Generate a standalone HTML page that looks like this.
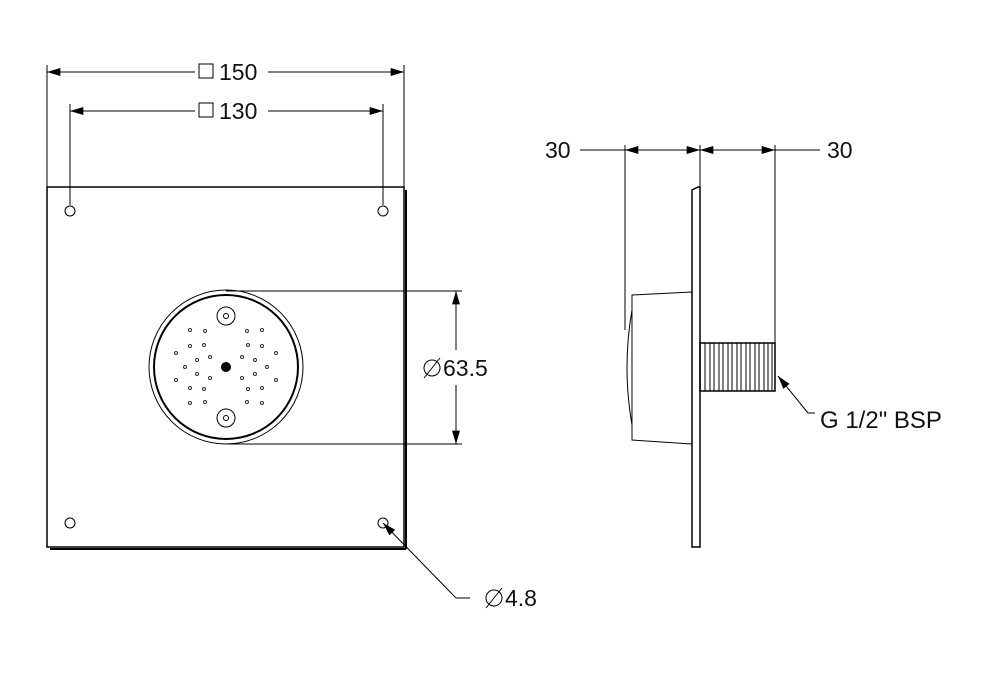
<!DOCTYPE html>
<html><head><style>body{margin:0;background:#fff}svg{display:block}text{font-family:"Liberation Sans",sans-serif;font-size:23px;fill:#111}</style></head><body>
<svg width="999" height="679" viewBox="0 0 999 679">
<defs><marker id="a" viewBox="0 0 10 6" refX="10" refY="3" markerWidth="24" markerHeight="8" markerUnits="userSpaceOnUse" orient="auto-start-reverse"><path d="M0,0L10,3L0,6z" fill="#000"/></marker></defs>
<g stroke="#000" fill="none" stroke-width="1">
<line x1="47" y1="65" x2="47" y2="187"/><line x1="404" y1="65" x2="404" y2="187"/>
<line x1="70" y1="104" x2="70" y2="205"/><line x1="383" y1="104" x2="383" y2="205"/>
<line x1="47" y1="72" x2="195" y2="72" marker-start="url(#a)"/><line x1="268" y1="72" x2="404" y2="72" marker-end="url(#a)"/>
<line x1="70" y1="111" x2="195" y2="111" marker-start="url(#a)"/><line x1="268" y1="111" x2="383" y2="111" marker-end="url(#a)"/>
<rect x="47" y="187" width="357" height="360" stroke-width="1.5"/>
<line x1="50" y1="549" x2="406" y2="549" stroke-width="2"/><line x1="406" y1="190" x2="406" y2="549" stroke-width="2"/>
<circle cx="70" cy="211" r="5"/><circle cx="383" cy="211" r="5"/><circle cx="70" cy="523" r="5"/><circle cx="383" cy="523" r="5"/>
<circle cx="226" cy="367" r="77"/><circle cx="226" cy="367" r="72" stroke-width="2"/>
<circle cx="226" cy="316" r="9"/><circle cx="226" cy="316" r="2.5"/><circle cx="226" cy="418" r="9"/><circle cx="226" cy="418" r="2.5"/>
<line x1="226" y1="291" x2="462" y2="291"/><line x1="226" y1="444" x2="462" y2="444"/>
<line x1="456" y1="291" x2="456" y2="350" marker-start="url(#a)"/><line x1="456" y1="385" x2="456" y2="444" marker-end="url(#a)"/>
<line x1="383" y1="523" x2="456" y2="598" marker-start="url(#a)"/><line x1="456" y1="598" x2="470" y2="598"/>
<circle cx="432" cy="368" r="8"/><line x1="424" y1="378" x2="440" y2="358"/>
<circle cx="494" cy="598" r="8"/><line x1="486" y1="608" x2="502" y2="588"/>
<rect x="199" y="64" width="14" height="14"/><rect x="199" y="103" width="14" height="14"/>
<line x1="625" y1="145" x2="625" y2="330"/><line x1="700" y1="145" x2="700" y2="187"/><line x1="775" y1="145" x2="775" y2="343"/>
<line x1="580" y1="150" x2="625" y2="150"/><line x1="625" y1="150" x2="700" y2="150" marker-end="url(#a)" marker-start="url(#a)"/>
<line x1="700" y1="150" x2="775" y2="150" marker-end="url(#a)" marker-start="url(#a)"/><line x1="775" y1="150" x2="820" y2="150"/>
<path d="M692,190 L698,187 L700,187 L700,547 L692,547 Z" stroke-width="1.5"/>
<path d="M692,292 L632,295 L632,440 L692,444"/>
<path d="M632,310 Q622,367 632,425"/>
<rect x="700" y="343" width="75" height="48" stroke-width="1.5"/>
<path d="M705,343v48M710,343v48M714,343v48M719,343v48M723,343v48M728,343v48M732,343v48M737,343v48M741,343v48M746,343v48M750,343v48M755,343v48M759,343v48M764,343v48M768,343v48M772,343v48"/>
<line x1="778" y1="376" x2="808" y2="413" marker-start="url(#a)"/><line x1="808" y1="413" x2="815" y2="413"/>
</g>
<g fill="#000"><circle cx="226" cy="367" r="5"/></g>
<g fill="none" stroke="#333" stroke-width="1"><circle cx="190" cy="330" r="1.5"/><circle cx="205" cy="331" r="1.5"/><circle cx="247" cy="331" r="1.5"/><circle cx="262" cy="330" r="1.5"/><circle cx="190" cy="346" r="1.5"/><circle cx="204" cy="345" r="1.5"/><circle cx="248" cy="345" r="1.5"/><circle cx="262" cy="346" r="1.5"/><circle cx="176" cy="353" r="1.5"/><circle cx="276" cy="353" r="1.5"/><circle cx="185" cy="367" r="1.5"/><circle cx="267" cy="367" r="1.5"/><circle cx="176" cy="380" r="1.5"/><circle cx="276" cy="380" r="1.5"/><circle cx="190" cy="388" r="1.5"/><circle cx="204" cy="389" r="1.5"/><circle cx="248" cy="389" r="1.5"/><circle cx="262" cy="388" r="1.5"/><circle cx="190" cy="403" r="1.5"/><circle cx="205" cy="402" r="1.5"/><circle cx="247" cy="402" r="1.5"/><circle cx="262" cy="403" r="1.5"/><circle cx="197" cy="360" r="1.5"/><circle cx="255" cy="360" r="1.5"/><circle cx="197" cy="374" r="1.5"/><circle cx="255" cy="374" r="1.5"/><circle cx="210" cy="357" r="1.5"/><circle cx="242" cy="357" r="1.5"/><circle cx="210" cy="378" r="1.5"/><circle cx="242" cy="378" r="1.5"/></g>
<text x="219" y="80">150</text><text x="219" y="119">130</text>
<text x="443" y="376">63.5</text><text x="505" y="606">4.8</text>
<text x="545" y="158">30</text><text x="827" y="158">30</text>
<text x="820" y="428" style="font-size:24px">G 1/2" BSP</text>
</svg></body></html>
